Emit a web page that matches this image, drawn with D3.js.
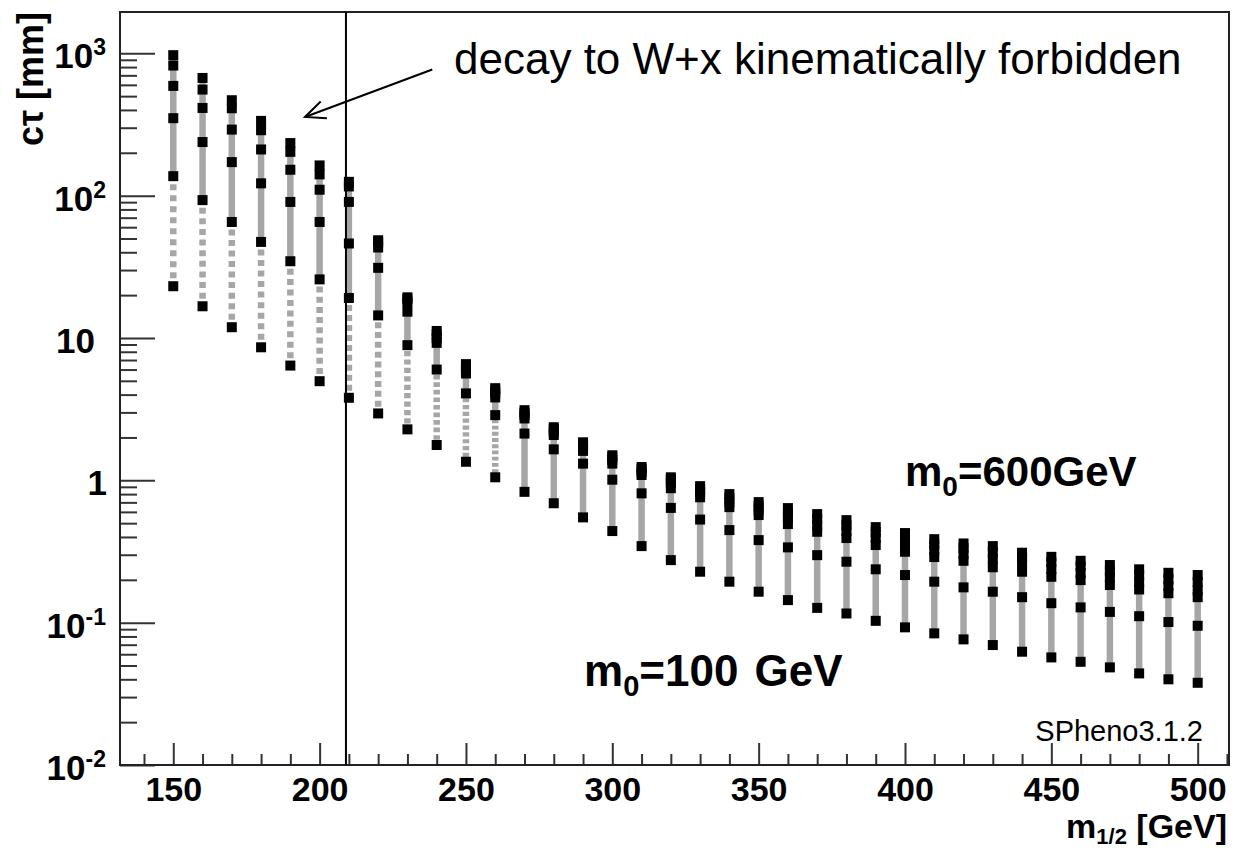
<!DOCTYPE html>
<html>
<head>
<meta charset="utf-8">
<script src="https://cdn.jsdelivr.net/npm/d3@7"></script>
<style>
  body { margin: 0; background: #fff; }
  svg { display: block; }
  text { font-family: "Liberation Sans", Arial, Helvetica, sans-serif; }
</style>
</head>
<body>
<svg id="chart" width="1238" height="849"></svg>
<script>
// ---------------- data ----------------
const m12 = [150,160,170,180,190,200,210,220,230,240,250,260,270,280,290,300,310,320,330,340,350,360,370,380,390,400,410,420,430,440,450,460,470,480,490,500];
const m0Values = [100,200,300,400,500,600];
const ctau_m0_100 = [23.1,16.7,11.9,8.6,6.4,4.97,3.8,2.95,2.28,1.77,1.35,1.05,0.83,0.69,0.549,0.44,0.345,0.275,0.228,0.194,0.165,0.144,0.127,0.116,0.103,0.0927,0.0841,0.0763,0.0696,0.0625,0.057,0.0531,0.0485,0.044,0.040,0.0378];
const ctau_m0_200 = [137,93,65.3,47.3,34.6,25.8,19.1,14.4,8.9,6.0,4.08,2.87,2.13,1.65,1.31,1.01,0.81,0.64,0.53,0.447,0.38,0.338,0.298,0.268,0.237,0.216,0.194,0.177,0.165,0.151,0.137,0.128,0.119,0.111,0.101,0.0951];
const ctau_m0_300 = [350,238,172,122,90.3,65.3,46.1,31.1,15.3,9.24,5.63,3.82,2.72,2.08,1.61,1.31,1.09,0.88,0.76,0.648,0.57,0.493,0.435,0.393,0.351,0.315,0.289,0.272,0.245,0.228,0.21,0.199,0.184,0.171,0.161,0.151];
const ctau_m0_400 = [590,413,291,211,152,110,90.3,43.2,17.8,9.97,6.04,4.10,2.87,2.18,1.71,1.39,1.14,0.955,0.826,0.703,0.618,0.543,0.485,0.44,0.393,0.356,0.324,0.303,0.28,0.258,0.238,0.223,0.209,0.193,0.181,0.169];
const ctau_m0_500 = [820,556,411,288,203,141,116,47.1,18.7,10.6,6.34,4.30,2.98,2.29,1.80,1.46,1.20,1.02,0.867,0.75,0.659,0.589,0.534,0.485,0.433,0.393,0.356,0.334,0.313,0.284,0.266,0.25,0.23,0.216,0.202,0.193];
const ctau_m0_600 = [970,671,468,335,234,163,125,48.6,19.3,11.2,6.55,4.44,3.11,2.36,1.85,1.50,1.24,1.05,0.91,0.80,0.703,0.638,0.579,0.525,0.469,0.426,0.386,0.36,0.345,0.31,0.29,0.272,0.254,0.237,0.224,0.216];

const xMajorTicks = [150,200,250,300,350,400,450,500];
const xMinorTicks = [140,160,170,180,190,210,220,230,240,260,270,280,290,310,320,330,340,360,370,380,390,410,420,430,440,460,470,480,490,510];
const yTickValues = [0.01,0.1,1,10,100,1000];
const yTickBase = ["10","10","1","10","10","10"];
const yTickSup  = ["-2","-1","","","2","3"];

const wThreshold = 209;                 // vertical line (m1/2)
const arrowFrom = {m: 238.5, ct: 770};  // arrow tail
const arrowTo   = {m: 195,   ct: 357};  // arrow tip

// ---------------- layout ----------------
const svg = d3.select("#chart");
const L = 120, R = 1229, T = 12, B = 765;
const x = d3.scaleLinear().domain([131.8, 510.7]).range([L, R]);
const y = d3.scaleLog().domain([0.01, 1950]).range([B, T]);

const series = [ctau_m0_100, ctau_m0_200, ctau_m0_300, ctau_m0_400, ctau_m0_500, ctau_m0_600];
const columns = m12.map((m, i) => ({ m, vals: series.map(s => s[i]) }));

// ---------------- grey intermediate markers (dotted segments) ----------------
const gGrey = svg.append("g");
columns.forEach(col => {
  const cx = x(col.m);
  for (let k = 0; k < col.vals.length - 1; k++) {
    const y1 = y(col.vals[k]), y2 = y(col.vals[k + 1]);
    const len = Math.abs(y1 - y2);
    const d = len / 10;
    const line = gGrey.append("line")
      .attr("x1", cx).attr("x2", cx)
      .attr("y1", y1).attr("y2", y2)
      .attr("stroke", "#a6a6a6")
      .attr("stroke-width", 6.5);
    if (d >= 6.0) {
      const a = Math.min(6, d * 0.62);
      line.attr("stroke-dasharray", `${a},${d - a}`).attr("stroke-dashoffset", a / 2);
    }
  }
});

// ---------------- black markers ----------------
const gBlack = svg.append("g");
const sz = 10;
columns.forEach(col => {
  col.vals.forEach(v => {
    gBlack.append("rect")
      .attr("x", x(col.m) - sz / 2).attr("y", y(v) - sz / 2)
      .attr("width", sz).attr("height", sz)
      .attr("fill", "#000");
  });
});

// ---------------- axes ----------------
const tickColor = "#333";
const xMajor = svg.append("g").attr("transform", `translate(0,${B})`)
  .call(d3.axisBottom(x).tickValues(xMajorTicks).tickSize(-22).tickPadding(12).tickFormat(d3.format("d")));
const xMinor = svg.append("g").attr("transform", `translate(0,${B})`)
  .call(d3.axisBottom(x).tickValues(xMinorTicks).tickSize(-11).tickFormat(""));
[xMajor, xMinor].forEach(g => {
  g.select(".domain").remove();
  g.selectAll("line").attr("stroke", tickColor).attr("stroke-width", 2);
});
xMajor.selectAll("text")
  .attr("fill", "#000")
  .style("font-size", "34px").style("font-weight", "bold")
  .style("font-family", "'Liberation Sans', Arial, sans-serif");

const yMinorVals = [];
[-2,-1,0,1,2,3].forEach(e => { for (let k = 2; k <= 9; k++) { const v = k * Math.pow(10, e); if (v < 1950) yMinorVals.push(v); } });
const yMajor = svg.append("g").attr("transform", `translate(${L},0)`)
  .call(d3.axisLeft(y).tickValues(yTickValues).tickSize(-35).tickFormat(""));
const yMinor = svg.append("g").attr("transform", `translate(${L},0)`)
  .call(d3.axisLeft(y).tickValues(yMinorVals).tickSize(-17).tickFormat(""));
[yMajor, yMinor].forEach(g => {
  g.select(".domain").remove();
  g.selectAll("line").attr("stroke", tickColor).attr("stroke-width", 2);
});

// y tick labels with superscripts
yTickValues.forEach((v, i) => {
  const ty = y(v);
  const hasSup = yTickSup[i] !== "";
  const endX = hasSup ? 106 : (yTickBase[i] === "1" ? 107 : 95);
  const t = svg.append("text")
    .attr("x", endX).attr("y", ty + 15)
    .attr("text-anchor", "end")
    .style("font-size", "35px").style("font-weight", "bold");
  t.append("tspan").text(yTickBase[i]);
  if (hasSup) t.append("tspan").attr("dy", -13).style("font-size", "23px").text(yTickSup[i]);
});

// frame
svg.append("rect").attr("x", L).attr("y", T).attr("width", R - L).attr("height", B - T)
  .attr("fill", "none").attr("stroke", "#222").attr("stroke-width", 2);

// threshold line
svg.append("line")
  .attr("x1", x(wThreshold)).attr("x2", x(wThreshold))
  .attr("y1", T).attr("y2", B)
  .attr("stroke", "#000").attr("stroke-width", 2);

// arrow
const ax1 = x(arrowFrom.m), ay1 = y(arrowFrom.ct), ax2 = x(arrowTo.m), ay2 = y(arrowTo.ct);
svg.append("line").attr("x1", ax1).attr("y1", ay1).attr("x2", ax2).attr("y2", ay2)
  .attr("stroke", "#000").attr("stroke-width", 2);
const ang = Math.atan2(ay1 - ay2, ax1 - ax2);
const headLen = 22, headAng = 0.42;
const head = [
  [ax2 + headLen * Math.cos(ang - headAng), ay2 + headLen * Math.sin(ang - headAng)],
  [ax2, ay2],
  [ax2 + headLen * Math.cos(ang + headAng), ay2 + headLen * Math.sin(ang + headAng)]
];
svg.append("path").attr("d", d3.line()(head)).attr("fill", "none")
  .attr("stroke", "#000").attr("stroke-width", 2);

// annotation text
svg.append("text").attr("x", 454).attr("y", 74)
  .style("font-size", "44px")
  .text("decay to W+x kinematically forbidden");

// m0 labels
function m0Label(xp, yp, rest, fs, ws) {
  const t = svg.append("text").attr("x", xp).attr("y", yp)
    .style("font-size", fs + "px").style("font-weight", "bold")
    .style("word-spacing", ws + "px");
  t.append("tspan").text("m");
  t.append("tspan").attr("dy", 10).style("font-size", Math.round(fs * 0.67) + "px").text("0");
  t.append("tspan").attr("dy", -10).text(rest);
}
m0Label(905, 486, "=600GeV", 42, 0);
m0Label(584, 686, "=100 GeV", 44, 4);

// SPheno label
svg.append("text").attr("x", 1203).attr("y", 741).attr("text-anchor", "end")
  .style("font-size", "29px").text("SPheno3.1.2");

// x-axis title
const xt = svg.append("text").attr("x", 1227).attr("y", 838).attr("text-anchor", "end")
  .style("font-size", "34px").style("font-weight", "bold");
xt.append("tspan").text("m");
xt.append("tspan").attr("dy", 6).style("font-size", "22px").text("1/2");
xt.append("tspan").attr("dy", -6).text(" [GeV]");

// y-axis title
svg.append("text")
  .attr("transform", `translate(43,${T}) rotate(-90)`)
  .attr("text-anchor", "end")
  .style("font-size", "36px").style("font-weight", "bold")
  .text("cτ [mm]");
</script>
</body>
</html>
